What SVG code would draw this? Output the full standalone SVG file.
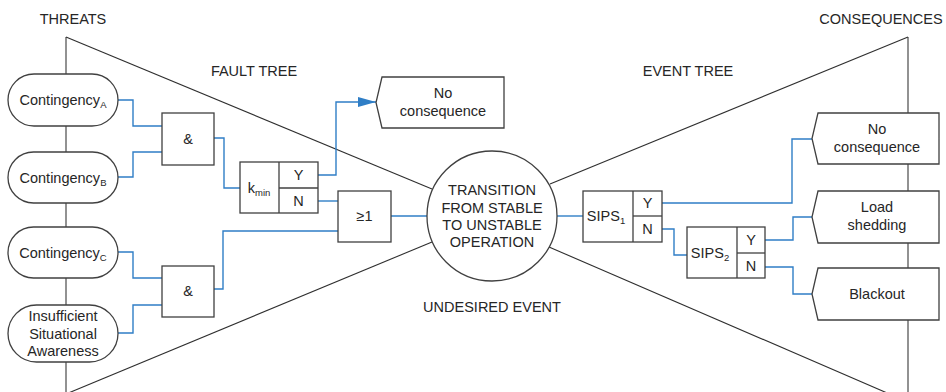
<svg xmlns="http://www.w3.org/2000/svg" width="946" height="392" viewBox="0 0 946 392">
  <defs>
    <style>
      text { font-family: "Liberation Sans", Arial, sans-serif; font-size: 14.5px; fill: #262626; text-anchor: middle; }
      .sub { font-size: 9.5px; }
      .box { fill: #ffffff; stroke: #404040; stroke-width: 1.3; }
      .div { fill: none; stroke: #404040; stroke-width: 1.3; }
      .spine { fill: none; stroke: #777777; stroke-width: 1.6; }
      .edge { fill: none; stroke: #2f2f2f; stroke-width: 1.1; }
      .wire { fill: none; stroke: #2f7ec6; stroke-width: 1.4; }
    </style>
    <marker id="arrow" markerUnits="userSpaceOnUse" markerWidth="18" markerHeight="10" refX="18" refY="5" orient="auto">
      <path d="M0,0 L18,5 L0,10 Z" fill="#2f7ec6"/>
    </marker>
  </defs>

  <!-- bow-tie outline -->
  <g id="bowtie">
    <line class="spine" x1="66" y1="37" x2="66" y2="392"/>
    <line class="spine" x1="908" y1="37" x2="908" y2="392"/>
    <line class="edge" x1="66" y1="37" x2="432" y2="189"/>
    <line class="edge" x1="66" y1="394" x2="432" y2="242"/>
    <line class="edge" x1="550" y1="184" x2="908" y2="37"/>
    <line class="edge" x1="549" y1="247" x2="908" y2="402"/>
  </g>

  <!-- section headings -->
  <g id="headings">
    <text x="73" y="24">THREATS</text>
    <text x="254" y="76">FAULT TREE</text>
    <text x="688" y="76">EVENT TREE</text>
    <text x="881" y="24">CONSEQUENCES</text>
    <text x="492" y="312">UNDESIRED EVENT</text>
  </g>

  <!-- connectors -->
  <g id="connectors">
    <path class="wire" d="M118,100 H133 V126 H162"/>
    <path class="wire" d="M118,177 H133 V152 H162"/>
    <path class="wire" d="M118,252 H133 V278 H162"/>
    <path class="wire" d="M118,333 H133 V305 H162"/>
    <path class="wire" d="M214,138 H224 V188 H240"/>
    <path class="wire" d="M214,289 H223 V231 H338"/>
    <path class="wire" d="M318,175 H336 V102 H376" marker-end="url(#arrow)"/>
    <path class="wire" d="M318,201 H338"/>
    <path class="wire" d="M391,216 H427"/>
    <path class="wire" d="M557,216 H583"/>
    <path class="wire" d="M662,203 H792 V139 H812"/>
    <path class="wire" d="M662,229 H674 V255 H687"/>
    <path class="wire" d="M765,240 H793 V217 H812"/>
    <path class="wire" d="M765,267 H793 V294 H812"/>
  </g>

  <!-- threats -->
  <g id="contingency-a">
    <rect class="box" x="8" y="74" width="110" height="52" rx="26"/>
    <text x="63" y="105">Contingency<tspan class="sub" dy="3">A</tspan></text>
  </g>
  <g id="contingency-b">
    <rect class="box" x="8" y="152" width="110" height="51" rx="25.5"/>
    <text x="63" y="182.5">Contingency<tspan class="sub" dy="3">B</tspan></text>
  </g>
  <g id="contingency-c">
    <rect class="box" x="8" y="227" width="110" height="51" rx="25.5"/>
    <text x="63" y="257.5">Contingency<tspan class="sub" dy="3">C</tspan></text>
  </g>
  <g id="situational-awareness">
    <rect class="box" x="8" y="305" width="110" height="57" rx="28.5"/>
    <text x="63" y="321">Insufficient</text>
    <text x="63" y="339">Situational</text>
    <text x="63" y="356">Awareness</text>
  </g>

  <!-- fault tree gates -->
  <g id="and-1">
    <rect class="box" x="162" y="113" width="52" height="52"/>
    <text x="188" y="144">&amp;</text>
  </g>
  <g id="and-2">
    <rect class="box" x="162" y="266" width="52" height="51"/>
    <text x="188" y="296">&amp;</text>
  </g>
  <g id="kmin">
    <rect class="box" x="240" y="162" width="78" height="51"/>
    <line class="div" x1="279" y1="162" x2="279" y2="213"/>
    <line class="div" x1="279" y1="188" x2="318" y2="188"/>
    <text x="259" y="193">k<tspan class="sub" dy="3">min</tspan></text>
    <text x="298.5" y="180">Y</text>
    <text x="298.5" y="206">N</text>
  </g>
  <g id="or-gate">
    <rect class="box" x="338" y="191" width="53" height="51"/>
    <text x="364.5" y="221">≥1</text>
  </g>
  <g id="no-consequence-ft">
    <polygon class="box" points="382,77 504,77 504,128 382,128 376,102.5"/>
    <text x="443" y="98">No</text>
    <text x="443" y="116">consequence</text>
  </g>

  <!-- undesired event -->
  <g id="transition">
    <circle class="box" cx="492" cy="216" r="65"/>
    <text x="492" y="195">TRANSITION</text>
    <text x="492" y="213">FROM STABLE</text>
    <text x="492" y="230">TO UNSTABLE</text>
    <text x="492" y="247">OPERATION</text>
  </g>

  <!-- event tree -->
  <g id="sips-1">
    <rect class="box" x="583" y="191" width="79" height="51"/>
    <line class="div" x1="633" y1="191" x2="633" y2="242"/>
    <line class="div" x1="633" y1="216" x2="662" y2="216"/>
    <text x="606" y="221">SIPS<tspan class="sub" dy="3">1</tspan></text>
    <text x="647.5" y="208">Y</text>
    <text x="647.5" y="234">N</text>
  </g>
  <g id="sips-2">
    <rect class="box" x="687" y="227" width="78" height="51"/>
    <line class="div" x1="737" y1="227" x2="737" y2="278"/>
    <line class="div" x1="737" y1="253" x2="765" y2="253"/>
    <text x="710" y="258">SIPS<tspan class="sub" dy="3">2</tspan></text>
    <text x="751" y="245">Y</text>
    <text x="751" y="271">N</text>
  </g>

  <!-- consequences -->
  <g id="no-consequence-et">
    <polygon class="box" points="818,113 939,113 939,164 818,164 812,138.5"/>
    <text x="877" y="134">No</text>
    <text x="877" y="152">consequence</text>
  </g>
  <g id="load-shedding">
    <polygon class="box" points="818,191 939,191 939,243 818,243 812,217"/>
    <text x="877" y="212">Load</text>
    <text x="877" y="230">shedding</text>
  </g>
  <g id="blackout">
    <polygon class="box" points="818,268 939,268 939,320 818,320 812,294"/>
    <text x="877" y="299">Blackout</text>
  </g>
</svg>
